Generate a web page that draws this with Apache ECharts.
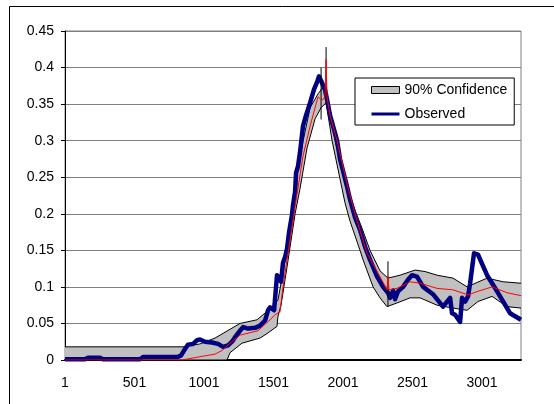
<!DOCTYPE html>
<html>
<head>
<meta charset="utf-8">
<script src="https://cdn.jsdelivr.net/npm/echarts@6/dist/echarts.min.js"></script>
<style>html,body{margin:0;padding:0;background:#fff;}#c{width:554px;height:404px;}</style>
</head>
<body>
<div id="c"></div>
<script>
// x values are (index - 1); labels show index
const xTickLabels = ['1','501','1001','1501','2001','2501','3001'];
const yTicks = [0,0.05,0.1,0.15,0.2,0.25,0.3,0.35,0.4,0.45];

const bandUpper = [[0,0.018],[849,0.018],[971,0.022],[1079,0.030],[1187,0.042],[1259,0.050],[1381,0.055],[1475,0.070],[1532,0.082],[1568,0.12],[1619,0.185],[1691,0.28],[1763,0.345],[1820,0.364],[1863,0.375],[1906,0.345],[1942,0.30],[2014,0.245],[2086,0.205],[2137,0.18],[2194,0.15],[2266,0.122],[2323,0.112],[2410,0.116],[2518,0.123],[2590,0.121],[2676,0.116],[2791,0.112],[2892,0.100],[3036,0.112],[3151,0.107],[3280,0.105]];

const bandLower = [[0,0],[1165,0],[1187,0.010],[1273,0.023],[1403,0.030],[1460,0.037],[1525,0.046],[1532,0.060],[1554,0.075],[1583,0.11],[1605,0.137],[1655,0.20],[1691,0.235],[1741,0.29],[1799,0.33],[1842,0.345],[1878,0.352],[1921,0.30],[2014,0.215],[2050,0.19],[2122,0.15],[2144,0.137],[2216,0.10],[2266,0.085],[2316,0.073],[2388,0.078],[2482,0.085],[2554,0.085],[2676,0.075],[2791,0.071],[2892,0.068],[2971,0.080],[3072,0.087],[3180,0.073],[3280,0.071]];

const median = [[0,0],[842,0],[971,0.0045],[1079,0.008],[1129,0.013],[1187,0.023],[1259,0.034],[1388,0.040],[1475,0.055],[1511,0.062],[1547,0.066],[1568,0.10],[1597,0.137],[1655,0.21],[1712,0.279],[1763,0.32],[1820,0.36],[1849,0.355],[1870,0.36],[1878,0.411],[1885,0.36],[1906,0.335],[1957,0.30],[2036,0.235],[2101,0.19],[2173,0.146],[2266,0.114],[2316,0.096],[2323,0.115],[2331,0.096],[2388,0.098],[2482,0.107],[2554,0.105],[2676,0.098],[2791,0.096],[2899,0.089],[2971,0.094],[3072,0.100],[3180,0.092],[3280,0.088]];

const observed = [[0,0.001],[144,0.001],[165,0.003],[252,0.003],[273,0.001],[540,0.001],[561,0.004],[806,0.004],[834,0.006],[863,0.015],[885,0.021],[921,0.022],[950,0.027],[971,0.028],[1007,0.025],[1058,0.024],[1101,0.022],[1137,0.018],[1173,0.020],[1201,0.025],[1230,0.033],[1259,0.040],[1281,0.045],[1317,0.043],[1367,0.044],[1403,0.047],[1439,0.054],[1460,0.068],[1475,0.072],[1489,0.071],[1504,0.068],[1518,0.100],[1525,0.116],[1540,0.112],[1554,0.107],[1568,0.133],[1583,0.141],[1597,0.152],[1612,0.175],[1633,0.199],[1640,0.212],[1655,0.230],[1662,0.256],[1676,0.265],[1691,0.285],[1712,0.320],[1734,0.335],[1763,0.352],[1791,0.370],[1813,0.380],[1827,0.388],[1842,0.382],[1856,0.380],[1870,0.370],[1885,0.356],[1906,0.335],[1921,0.325],[1957,0.300],[1978,0.275],[2029,0.237],[2050,0.220],[2086,0.195],[2122,0.178],[2158,0.155],[2194,0.137],[2245,0.114],[2288,0.100],[2323,0.092],[2338,0.085],[2360,0.095],[2374,0.083],[2396,0.094],[2410,0.092],[2432,0.100],[2468,0.110],[2496,0.116],[2532,0.114],[2576,0.100],[2647,0.090],[2719,0.073],[2770,0.085],[2784,0.064],[2806,0.062],[2842,0.052],[2856,0.085],[2878,0.080],[2899,0.087],[2914,0.105],[2942,0.146],[2971,0.144],[3036,0.116],[3108,0.094],[3201,0.064],[3280,0.055]];

const spikeX = [1842, 1878, 2323];
const spikeLow = [0.329, 0.36, 0.073];
const spikeHigh = [0.40, 0.428, 0.135];

const FONT = '"Liberation Sans", Arial, sans-serif';
const chart = echarts.init(document.getElementById('c'), null, {renderer: 'canvas'});

const spikeSeries = spikeX.map((x, i) => ({
  type: 'line', silent: true, symbol: 'none', z: 4,
  lineStyle: {color: '#000', width: 1},
  data: [[x, spikeLow[i]], [x, spikeHigh[i]]]
}));

chart.setOption({
  animation: false,
  backgroundColor: '#fff',
  textStyle: {fontFamily: FONT},
  graphic: [{
    type: 'rect', silent: true, z: -10,
    shape: {x: 9.5, y: 6.5, width: 600, height: 500},
    style: {fill: null, stroke: '#000', lineWidth: 1}
  }],
  grid: {left: 65, right: 33, top: 31, bottom: 44, show: true, borderColor: '#808080', borderWidth: 1},
  legend: {
    left: 355, top: 78, orient: 'vertical',
    backgroundColor: '#fff', borderColor: '#000', borderWidth: 1,
    padding: [5, 7, 4, 15], itemGap: 10, itemWidth: 28, itemHeight: 7,
    textStyle: {fontFamily: FONT, fontSize: 14, color: '#000'},
    data: [
      {name: '90% Confidence', icon: 'rect', itemStyle: {color: '#c0c0c0', borderColor: '#000', borderWidth: 1}},
      {name: 'Observed', itemStyle: {color: 'rgba(0,0,0,0)', borderColor: 'rgba(0,0,0,0)', borderWidth: 0},
        lineStyle: {width: 3, color: '#000080'}}
    ]
  },
  xAxis: {
    type: 'value', min: 0, max: 3280, interval: 500,
    axisLine: {lineStyle: {color: '#000', width: 2}},
    axisTick: {show: false},
    splitLine: {show: false},
    axisLabel: {
      margin: 16, fontSize: 14, color: '#000', fontFamily: FONT, showMaxLabel: false,
      formatter: v => { const i = Math.round(v / 500); return (v % 500 === 0 && i < xTickLabels.length) ? xTickLabels[i] : ''; }
    }
  },
  yAxis: {
    type: 'value', min: yTicks[0], max: yTicks[yTicks.length - 1], interval: 0.05,
    axisLine: {show: true, lineStyle: {color: '#000', width: 1}},
    axisTick: {show: true, length: 4, lineStyle: {color: '#000'}},
    splitLine: {lineStyle: {color: '#808080', width: 1}},
    axisLabel: {margin: 11, fontSize: 14, color: '#000', fontFamily: FONT,
      formatter: v => String(Math.round(v * 100) / 100)}
  },
  series: [
    {
      name: '90% Confidence', type: 'custom', z: 1, silent: true,
      itemStyle: {color: '#c0c0c0'},
      data: [[0, 0]],
      renderItem: (params, api) => {
        const pts = bandUpper.map(p => api.coord(p)).concat(bandLower.slice().reverse().map(p => api.coord(p)));
        return {type: 'polygon', shape: {points: pts}, style: {fill: '#c0c0c0', stroke: null}};
      }
    },
    {type: 'line', silent: true, symbol: 'none', z: 2, data: bandUpper, lineStyle: {color: '#000', width: 1}},
    {type: 'line', silent: true, symbol: 'none', z: 2, data: bandLower, lineStyle: {color: '#000', width: 1}},
    {name: 'Observed', type: 'line', symbol: 'none', z: 3, data: observed, color: '#000080',
      lineStyle: {color: '#000080', width: 4.5, join: 'round'}},
    ...spikeSeries,
    {type: 'line', silent: true, symbol: 'none', z: 5, data: median, lineStyle: {color: '#ff0000', width: 1}}
  ]
});
</script>
</body>
</html>
